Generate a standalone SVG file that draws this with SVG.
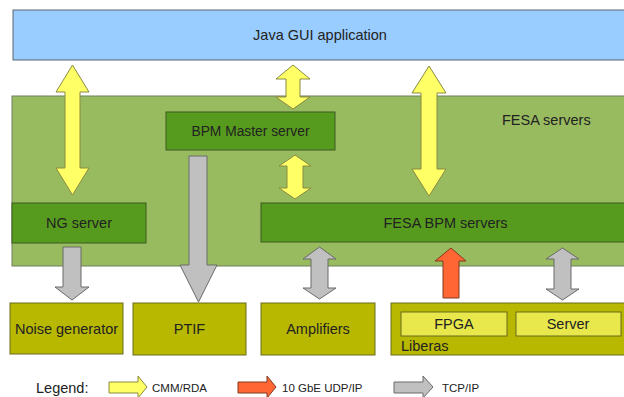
<svg xmlns="http://www.w3.org/2000/svg" width="624" height="397" viewBox="0 0 624 397">
<style>
text{font-family:"Liberation Sans",Arial,sans-serif;fill:#222;}
.lbl{font-size:14.5px;text-anchor:middle;}
.leg{font-size:11.5px;}
.gui{fill:#99ccff;stroke:#5a6670;stroke-width:1;}
.area{fill:#99bb60;stroke:#6f7f5f;stroke-width:1;}
.srv{fill:#579b1e;stroke:#3d5a22;stroke-width:1;}
.dev{fill:#b8b800;stroke:#6a6a20;stroke-width:1;}
.sub{fill:#e8e84c;stroke:#6a6a20;stroke-width:1;}
.ya{fill:#ffff66;stroke:#8a8a40;stroke-width:1;}
.ga{fill:#c0c0c0;stroke:#6a6a6a;stroke-width:1;}
.ra{fill:#ff6633;stroke:#803a20;stroke-width:1;}
</style>
<rect width="624" height="397" fill="#ffffff"/>
<g id="gui">
<rect class="gui" x="13" y="10" width="614" height="50"/>
<text class="lbl" x="320" y="40">Java GUI application</text>
</g>
<g id="fesa-area">
<rect class="area" x="12" y="96" width="616" height="170"/>
<text x="502" y="125" style="font-size:14.5px">FESA servers</text>
</g>
<g id="bpm-master">
<rect class="srv" x="166" y="112" width="169" height="38"/>
<text class="lbl" x="250.5" y="136" style="font-size:13.8px">BPM Master server</text>
</g>
<g id="ng-server">
<rect class="srv" x="12" y="203" width="134" height="40"/>
<text class="lbl" x="79" y="228">NG server</text>
</g>
<g id="fesa-bpm">
<rect class="srv" x="261" y="203" width="366" height="39"/>
<text class="lbl" x="445.5" y="228">FESA BPM servers</text>
</g>
<g id="noise-generator">
<rect class="dev" x="10" y="303" width="113" height="51"/>
<text class="lbl" x="66.5" y="334">Noise generator</text>
</g>
<g id="ptif">
<rect class="dev" x="133" y="303" width="113" height="52"/>
<text class="lbl" x="189.5" y="334">PTIF</text>
</g>
<g id="amplifiers">
<rect class="dev" x="261" y="303" width="114" height="52"/>
<text class="lbl" x="318" y="334">Amplifiers</text>
</g>
<g id="liberas">
<rect class="dev" x="391" y="303" width="236" height="52"/>
<text x="401" y="351" style="font-size:14.5px">Liberas</text>
</g>
<g id="fpga">
<rect class="sub" x="401" y="312" width="106" height="24"/>
<text class="lbl" x="454" y="329">FPGA</text>
</g>
<g id="server">
<rect class="sub" x="516" y="312" width="105" height="24"/>
<text class="lbl" x="568" y="329">Server</text>
</g>
<g id="connectors">
<path class="ya" d="M72.5,65 L89,92 L80,92 L80,168 L89,168 L72.5,195 L56,168 L65,168 L65,92 L56,92 Z"/>
<path class="ya" d="M293,65 L310,79 L300,79 L300,97 L310,97 L293,109 L276,97 L286,97 L286,79 L276,79 Z"/>
<path class="ya" d="M295,155 L311,166 L303,166 L303,188 L311,188 L295,199 L279,188 L287,188 L287,166 L279,166 Z"/>
<path class="ya" d="M429,66 L446,93 L437,93 L437,169 L446,169 L429,196 L412,169 L421,169 L421,93 L412,93 Z"/>
<path class="ga" d="M63,247 L81,247 L81,287 L89,287 L72,300 L55,287 L63,287 Z"/>
<path class="ga" d="M189,156 L207,156 L207,265 L217,265 L198.5,302 L180,265 L189,265 Z"/>
<path class="ga" d="M319.5,247 L336,259 L328,259 L328,288 L336,288 L319.5,299 L303,288 L311,288 L311,259 L303,259 Z"/>
<path class="ga" d="M562.5,248 L579,259 L571,259 L571,289 L579,289 L562.5,300 L546,289 L554,289 L554,259 L546,259 Z"/>
<path class="ra" d="M451,248 L466,261 L459,261 L459,298 L443,298 L443,261 L435,261 Z"/>
</g>
<g id="legend">
<text x="36" y="393" style="font-size:14.5px">Legend:</text>
<path class="ya" d="M109,382 L138,382 L138,376 L147,387 L138,398 L138,393 L109,393 Z"/>
<text class="leg" x="152" y="392">CMM/RDA</text>
<path class="ra" d="M238,382 L267,382 L267,376 L276,387 L267,398 L267,393 L238,393 Z"/>
<text class="leg" x="282" y="392">10 GbE UDP/IP</text>
<path class="ga" d="M394,382 L423,382 L423,376 L433,387 L423,398 L423,393 L394,393 Z"/>
<text class="leg" x="442" y="392">TCP/IP</text>
</g>
</svg>
